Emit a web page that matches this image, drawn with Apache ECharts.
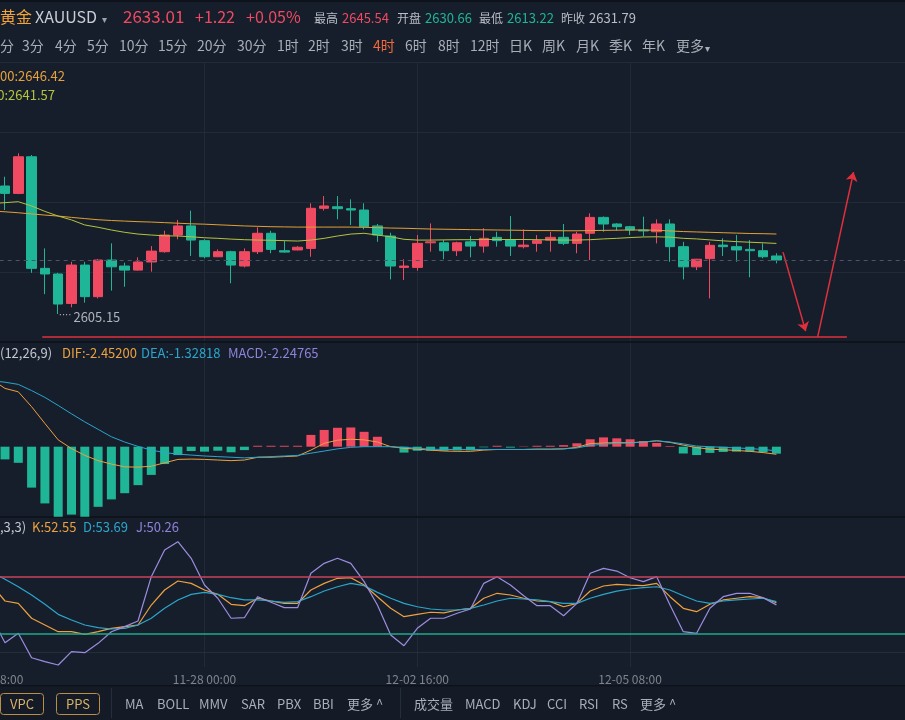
<!DOCTYPE html>
<html>
<head>
<meta charset="utf-8">
<title>黄金 XAUUSD 4时</title>
<script src="https://cdn.jsdelivr.net/npm/echarts@6/dist/echarts.min.js"></script>
<style>
html,body{margin:0;padding:0;background:#171e2b;}
#chart{width:905px;height:720px;}
</style>
</head>
<body>
<div id="chart"></div>
<script>
// 4h bars 1..59 (slot 0 sits just off the left edge)
var opens = [2671.2,2667.4,2686.3,2628.7,2625.8,2610.6,2630.4,2614.1,2633.0,2629.9,
  2627.8,2632.0,2637.3,2645.9,2650.6,2643.0,2634.7,2637.3,2629.9,2637.3,
  2646.8,2637.8,2638.2,2639.0,2659.7,2660.5,2659.5,2658.8,2650.6,2645.4,
  2629.2,2629.2,2641.9,2641.9,2637.8,2642.4,2640.2,2644.7,2643.3,2639.9,
  2641.6,2643.3,2644.7,2641.6,2646.8,2655.0,2651.6,2650.2,2648.5,2647.6,
  2651.6,2639.9,2629.5,2633.7,2640.7,2639.9,2638.5,2637.8,2635.1];
var closes = [2667.4,2686.3,2628.7,2625.8,2610.3,2630.4,2614.1,2633.0,2629.5,2627.8,
  2632.0,2637.6,2645.9,2650.6,2643.3,2634.7,2637.3,2630.4,2637.3,2646.8,
  2638.5,2637.1,2639.6,2659.7,2660.9,2659.5,2658.8,2650.2,2645.9,2629.9,
  2629.9,2641.6,2642.4,2637.8,2641.9,2640.2,2644.2,2643.0,2640.2,2640.7,
  2643.0,2644.7,2641.6,2646.4,2655.0,2651.6,2650.2,2648.5,2648.0,2651.6,
  2639.9,2629.5,2633.4,2640.6,2639.9,2638.2,2637.8,2634.7,2633.01];
var lows = [2658.8,2667.0,2626.4,2615.4,2605.15,2608.6,2611.0,2613.2,2617.2,2619.2,
  2627.5,2627.0,2636.8,2643.7,2635.1,2633.9,2634.5,2621.0,2629.2,2636.1,
  2636.5,2636.8,2638.0,2634.7,2658.5,2654.0,2651.1,2648.8,2642.4,2623.0,
  2622.7,2627.5,2637.3,2633.4,2635.1,2634.4,2636.8,2639.9,2635.1,2639.0,
  2637.3,2637.3,2640.7,2636.5,2633.0,2647.6,2648.1,2645.9,2645.1,2641.6,
  2632.1,2623.0,2627.8,2613.22,2635.1,2632.1,2624.1,2633.9,2631.3];
var highs = [2676.0,2688.1,2687.2,2639.0,2626.4,2632.1,2632.1,2633.5,2641.6,2631.6,
  2634.4,2640.2,2648.1,2653.7,2658.5,2643.7,2638.5,2637.8,2639.0,2649.9,
  2648.1,2643.0,2640.2,2662.3,2666.0,2666.0,2664.3,2662.3,2651.6,2647.1,
  2633.4,2645.9,2651.9,2643.3,2642.5,2645.4,2649.4,2647.6,2655.7,2648.8,
  2645.9,2647.6,2651.6,2647.6,2657.1,2655.5,2652.0,2650.6,2655.4,2654.0,
  2654.0,2642.4,2633.6,2642.4,2644.2,2645.9,2643.3,2641.6,2636.5];

// moving averages, slot 0..59
var maSlow = [2658.3,2657.9,2657.4,2656.8,2656.2,2655.7,2655.0,2654.4,2653.8,2653.4,
  2653.1,2652.8,2652.6,2652.3,2652.0,2651.7,2651.5,2651.2,2650.9,2650.6,
  2650.4,2650.2,2650.1,2650.0,2650.0,2650.0,2650.0,2650.0,2649.9,2649.7,
  2649.5,2649.4,2649.2,2649.0,2648.9,2648.8,2648.7,2648.6,2648.5,2648.4,
  2648.3,2648.2,2648.2,2648.1,2648.1,2648.2,2648.3,2648.4,2648.5,2648.5,
  2648.4,2648.0,2647.7,2647.5,2647.3,2647.1,2646.9,2646.7,2646.6,2646.42];
var maFast = [2662.2,2662.6,2663.1,2660.9,2658.1,2655.7,2653.7,2651.1,2649.9,2648.5,
  2647.3,2646.4,2645.9,2645.5,2645.4,2645.0,2644.5,2644.2,2643.8,2643.5,
  2643.3,2643.2,2643.0,2642.8,2643.3,2644.2,2645.4,2646.4,2646.8,2645.9,
  2645.0,2643.7,2643.3,2643.3,2643.4,2643.5,2643.5,2643.6,2643.6,2643.6,
  2643.6,2643.5,2643.4,2643.3,2643.3,2643.5,2643.9,2644.2,2644.6,2644.9,
  2645.0,2644.8,2644.2,2643.9,2643.4,2642.9,2642.5,2642.2,2641.9,2641.57];

// MACD(12,26,9), slot 0..59 for lines, 1..59 for bars
var difs = [21.7,18.8,17.7,12.9,7.5,2.2,-0.6,-2.8,-4.5,-5.6,
  -6.5,-6.6,-6.3,-5.2,-4.1,-4.0,-4.1,-4.3,-4.5,-4.3,
  -3.4,-3.4,-3.2,-3.0,-1.1,1.1,2.1,2.4,2.2,1.5,
  0.0,-0.5,-0.8,-1.1,-1.4,-1.5,-1.5,-1.1,-0.9,-0.9,
  -0.9,-0.8,-0.8,-0.7,-0.2,1.0,1.2,1.3,1.3,1.5,
  1.9,1.4,0.5,-0.3,-0.8,-1.0,-1.2,-1.5,-1.9,-2.452];
var deas = [21.3,20.8,20.1,18.1,15.9,13.3,10.6,8.0,5.6,3.2,
  1.5,0.1,-1.1,-1.9,-2.4,-2.7,-3.0,-3.2,-3.4,-3.6,
  -3.4,-3.2,-3.0,-2.8,-2.1,-1.4,-0.7,-0.2,0.0,0.0,
  0.0,-0.2,-0.5,-0.8,-0.9,-0.9,-0.9,-0.9,-0.9,-0.9,
  -0.9,-0.8,-0.8,-0.7,-0.4,0.4,0.8,1.1,1.2,1.5,
  1.9,1.5,0.9,0.2,0.0,-0.2,-0.4,-0.6,-0.9,-1.328];
var macdBars = [-4.1,-5.2,-13.2,-18.3,-22.6,-21.9,-22.6,-19.4,-17.0,-15.0,
  -12.4,-9.1,-5.6,-2.7,-1.4,-1.6,-1.3,-1.8,-1.1,0.3,
  0.3,0.3,0.3,3.8,5.4,6.1,6.2,4.8,3.2,0.2,
  -1.9,-1.3,-1.3,-1.3,-1.2,-1.2,-0.2,0.3,-0.3,0.1,
  0.3,0.3,0.5,1.1,2.4,3.0,2.7,2.4,1.8,1.2,
  0.2,-2.2,-2.7,-2.0,-1.7,-1.6,-1.6,-1.8,-2.248];

// KDJ(9,3,3), slot 0..59
var kVals = [71.4,54.4,51.9,36.0,28.8,21.7,21.7,18.9,21.7,25.3,
  27.1,28.8,50.1,66.1,75.7,73.2,66.1,61.5,50.9,49.4,
  57.3,54.4,51.9,51.9,66.1,73.2,78.6,79.2,71.4,59.0,
  46.6,37.7,40.2,42.4,41.8,44.8,46.6,57.3,62.6,60.8,
  57.3,54.4,53.7,48.3,51.9,65.0,70.4,72.2,71.4,70.7,
  73.2,59.0,46.6,43.0,50.9,55.5,57.3,59.0,57.9,52.55];
var dVals = [85.0,77.5,69.6,60.8,50.9,40.2,34.2,28.8,26.0,24.6,
  25.3,28.8,36.0,46.6,55.5,61.5,63.6,61.5,57.9,55.5,
  55.5,54.4,53.0,53.7,59.0,65.0,69.6,73.2,70.7,63.6,
  57.3,51.9,48.3,45.9,44.8,44.8,46.6,50.1,54.4,57.3,
  56.5,55.5,53.7,51.9,51.9,57.3,61.5,65.0,67.2,68.6,
  69.6,66.1,60.0,54.4,51.9,54.4,55.5,56.5,57.3,53.69];
var jVals = [36.6,10.0,20.0,-6.0,-10.2,-13.8,0.4,-0.6,9.3,21.7,
  27.1,33.1,80.3,108.7,117.6,99.9,71.4,57.3,36.0,36.6,
  59.0,53.0,47.3,47.3,83.9,94.5,99.9,94.5,75.0,50.1,
  18.2,6.8,25.3,36.0,36.0,41.3,45.9,73.2,80.3,71.4,
  60.0,49.4,49.4,38.7,51.9,83.9,89.2,86.3,79.2,75.0,
  80.3,50.1,21.7,20.0,46.6,59.0,62.6,62.6,57.9,50.26];

var timeIdx = [0, 16, 32, 48];
var timeText = ['11-25 08:00', '11-28 00:00', '12-02 16:00', '12-05 08:00'];
var slotCount = 70;
var lastPrice = 2633.01;

// hand-drawn marks, in [slot, price]
var supportLine = [[3.8, 2593.2], [64.3, 2593.2]];
var arrowDown = [[59.5, 2637.1], [61.2, 2596.3]];
var arrowUp = [[62.1, 2593.2], [64.8, 2678.4]];

var RED = '#ef4a61', GREEN = '#1fb597';
var FONT = '"Noto Sans CJK SC", "Noto Sans", sans-serif';

var cats = [];
for (var i = 0; i < slotCount; i++) cats.push(String(i));

var candleData = ['-'];
for (var i = 0; i < opens.length; i++) candleData.push([opens[i], closes[i], lows[i], highs[i]]);

var macdData = ['-'];
for (var v of macdBars) macdData.push({value: v, itemStyle: {color: v >= 0 ? RED : GREEN}});

function isTick(i){ return timeIdx.indexOf(i) >= 0; }

function timeAxis(gi, showLabel){
  return {
    type: 'category', gridIndex: gi, data: cats, boundaryGap: false,
    axisLine: {show: showLabel, lineStyle: {color: '#252d3b'}},
    axisTick: {show: false},
    axisLabel: {
      show: showLabel, interval: function(i){ return isTick(i); },
      formatter: function(val){ var k = timeIdx.indexOf(Number(val)); return k >= 0 ? timeText[k] : ''; },
      color: '#7f858f', fontSize: 12, fontFamily: FONT, margin: 6
    },
    splitLine: {show: true, interval: function(i){ return isTick(i); }, lineStyle: {color: '#222a38', width: 1}}
  };
}

function txt(x, y, s, color, size, align){
  return {type: 'text', x: x, y: y, silent: true, z: 10,
    style: {text: s, fill: color, font: size + 'px ' + FONT,
      align: align || 'left', textAlign: align || 'left',
      verticalAlign: 'middle', textVerticalAlign: 'middle'}};
}
function rect(x, y, w, h, fill){
  return {type: 'rect', silent: true, z: 1, shape: {x: x, y: y, width: w, height: h}, style: {fill: fill}};
}

var graphics = [
  rect(0, 686, 905, 34, '#141a26'),
  rect(0, 685, 905, 1.5, '#0e131b'),
  rect(0, 0, 905, 2, '#0e131b'),
  rect(0, 62, 905, 1, '#222a37'),
  rect(0, 341, 905, 2, '#0f141c'),
  rect(0, 516, 905, 2, '#0f141c'),
  txt(0, 17, '黄金', '#f2a33a', 16),
  txt(35, 17, 'XAUUSD', '#c8cdd5', 16),
  txt(102, 19, '▾', '#9aa1ab', 10),
  txt(123, 17, '2633.01', RED, 17),
  txt(195, 17, '+1.22', RED, 16),
  txt(246, 17, '+0.05%', RED, 16),
  txt(314, 18, '最高', '#b9bec7', 12),
  txt(342, 18, '2645.54', RED, 13),
  txt(397, 18, '开盘', '#b9bec7', 12),
  txt(425, 18, '2630.66', GREEN, 13),
  txt(479, 18, '最低', '#b9bec7', 12),
  txt(507, 18, '2613.22', GREEN, 13),
  txt(561, 18, '昨收', '#b9bec7', 12),
  txt(589, 18, '2631.79', '#b9bec7', 13)
];

var periods = [['分',0],['3分',22],['4分',55],['5分',87],['10分',119],['15分',158],['20分',197],['30分',237],
  ['1时',277],['2时',308],['3时',341],['4时',373],['6时',405],['8时',438],['12时',470],['日K',509],
  ['周K',542],['月K',576],['季K',609],['年K',642],['更多',676]];
for (var p of periods) graphics.push(txt(p[1], 46, p[0], p[0] === '4时' ? '#f26a3c' : '#a8aeb8', 14));
graphics.push(txt(705, 48, '▾', '#a8aeb8', 10));

graphics.push(txt(0, 76, '00:2646.42', '#e6a23c', 13));
graphics.push(txt(-10, 95, '60:2641.57', '#b4c43f', 13));

graphics.push(txt(0, 353, '(12,26,9)', '#c3c8d0', 13));
graphics.push(txt(62, 353, 'DIF:-2.45200', '#eda13f', 13));
graphics.push(txt(141, 353, 'DEA:-1.32818', '#2aa6cc', 13));
graphics.push(txt(228, 353, 'MACD:-2.24765', '#8f82d9', 13));

graphics.push(txt(0, 527, ',3,3)', '#c3c8d0', 13));
graphics.push(txt(32, 527, 'K:52.55', '#eda13f', 13));
graphics.push(txt(83, 527, 'D:53.69', '#2aa6cc', 13));
graphics.push(txt(136, 527, 'J:50.26', '#8f82d9', 13));

// bottom toolbar
graphics.push({type: 'rect', silent: true, z: 10, shape: {x: 0.5, y: 693.5, width: 43, height: 21, r: 3}, style: {fill: 'none', stroke: '#b98f48', lineWidth: 1}});
graphics.push({type: 'rect', silent: true, z: 10, shape: {x: 56.5, y: 693.5, width: 43, height: 21, r: 3}, style: {fill: 'none', stroke: '#b98f48', lineWidth: 1}});
graphics.push(txt(22, 704, 'VPC', '#d8b36a', 13, 'center'));
graphics.push(txt(78, 704, 'PPS', '#d8b36a', 13, 'center'));
graphics.push(rect(111, 688, 1, 30, '#262e3b'));
graphics.push(rect(400, 688, 1, 30, '#262e3b'));
var tools = [['MA',125],['BOLL',157],['MMV',199],['SAR',241],['PBX',277],['BBI',313],['更多 ^',347],
  ['成交量',414],['MACD',465],['KDJ',513],['CCI',547],['RSI',579],['RS',612],['更多 ^',640]];
for (var t of tools) graphics.push(txt(t[1], 704, t[0], '#a9afb9', 13));

var chart = echarts.init(document.getElementById('chart'));
var gridBase = {left: -8.3, right: -4.4, outerBoundsMode: 'none', containLabel: false};
chart.setOption({
  backgroundColor: '#171e2b',
  animation: false,
  grid: [
    Object.assign({top: 62, height: 280}, gridBase),
    Object.assign({top: 343, height: 174}, gridBase),
    Object.assign({top: 518, height: 149}, gridBase)
  ],
  xAxis: [
    timeAxis(0, false), timeAxis(1, false), timeAxis(2, true),
    {type: 'value', gridIndex: 0, min: 0, max: slotCount - 1, show: false}
  ],
  yAxis: [
    {type: 'value', gridIndex: 0, min: 2590.7, max: 2735.2, show: false},
    {type: 'value', gridIndex: 0, min: 0, max: 4, interval: 1,
      axisLabel: {show: false}, axisLine: {show: false}, axisTick: {show: false},
      splitLine: {lineStyle: {color: '#222a38'}}},
    {type: 'value', gridIndex: 1, min: -22.68, max: 33.45, show: false},
    {type: 'value', gridIndex: 2, min: -15.9, max: 142.8, show: false}
  ],
  graphic: graphics,
  series: [
    {
      type: 'candlestick', xAxisIndex: 0, yAxisIndex: 0, barWidth: 10,
      data: candleData,
      itemStyle: {color: RED, color0: GREEN, borderColor: RED, borderColor0: GREEN, borderWidth: 1},
      markLine: {
        silent: true, symbol: ['none', 'none'], label: {show: false},
        lineStyle: {color: '#4c5564', type: [4, 4], width: 1},
        data: [{yAxis: lastPrice}]
      },
      markPoint: {
        symbol: 'circle', symbolSize: 1, itemStyle: {color: 'rgba(0,0,0,0)'},
        label: {show: true, position: 'right', distance: 0, offset: [0, 3],
          formatter: function(p){ return '{d|····}{v|' + p.value + '}'; },
          rich: {
            d: {fontSize: 10, fontFamily: '"DejaVu Sans"', color: '#aeb3bc', padding: [0, 2, 4, 0]},
            v: {fontSize: 13, fontFamily: FONT, color: '#aeb3bc'}
          }},
        data: [{type: 'min', valueDim: 'lowest'}]
      }
    },
    {type: 'line', xAxisIndex: 0, yAxisIndex: 0, data: maSlow, symbol: 'none',
      lineStyle: {color: '#e2a134', width: 1}},
    {type: 'line', xAxisIndex: 0, yAxisIndex: 0, data: maFast, symbol: 'none',
      lineStyle: {color: '#b4c43f', width: 1}},
    {type: 'lines', coordinateSystem: 'cartesian2d', xAxisIndex: 3, yAxisIndex: 0,
      symbol: ['none', 'none'], lineStyle: {color: '#e0303c', width: 1.5, opacity: 1},
      data: [{coords: supportLine}]},
    {type: 'lines', coordinateSystem: 'cartesian2d', xAxisIndex: 3, yAxisIndex: 0,
      symbol: ['none', 'arrow'], symbolSize: 9, lineStyle: {color: '#e0303c', width: 1.5, opacity: 1},
      data: [{coords: arrowDown}, {coords: arrowUp}]},

    {type: 'bar', xAxisIndex: 1, yAxisIndex: 2, barWidth: 9, data: macdData},
    {type: 'line', xAxisIndex: 1, yAxisIndex: 2, data: difs, symbol: 'none',
      lineStyle: {color: '#eda13f', width: 1}},
    {type: 'line', xAxisIndex: 1, yAxisIndex: 2, data: deas, symbol: 'none',
      lineStyle: {color: '#2aa6cc', width: 1}},

    {type: 'line', xAxisIndex: 2, yAxisIndex: 3, data: kVals, symbol: 'none',
      lineStyle: {color: '#eda13f', width: 1.2},
      markLine: {
        silent: true, symbol: ['none', 'none'], label: {show: false},
        data: [
          {yAxis: 80, lineStyle: {color: '#c9455c', width: 1.5, type: 'solid'}},
          {yAxis: 20, lineStyle: {color: '#1fa98e', width: 1.5, type: 'solid'}}
        ]
      }},
    {type: 'line', xAxisIndex: 2, yAxisIndex: 3, data: dVals, symbol: 'none',
      lineStyle: {color: '#2aa6cc', width: 1.2}},
    {type: 'line', xAxisIndex: 2, yAxisIndex: 3, data: jVals, symbol: 'none',
      lineStyle: {color: '#9d8de0', width: 1.2}}
  ]
});
</script>
</body>
</html>
